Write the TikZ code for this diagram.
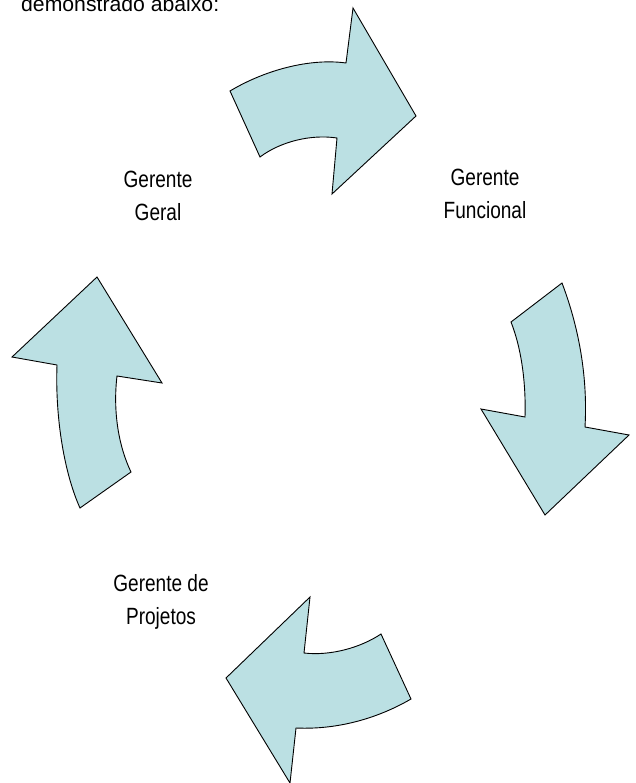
\documentclass[tikz,border=0pt]{standalone}
\usepackage{fontspec}
\setmainfont{Liberation Sans}
\newfontfamily\narrowfont[FakeStretch=0.81]{Liberation Sans}
\definecolor{arrowfill}{RGB}{187,224,227}
\tikzset{
  bigarrow/.style={draw=black, line width=0.9pt, fill=arrowfill, line join=miter},
  label/.style={inner sep=0pt, align=center, font=\narrowfont\fontsize{23.5}{33}\selectfont},
  headtext/.style={inner sep=0pt, anchor=base west, font=\fontsize{21.2}{25}\selectfont}
}
\begin{document}
\begin{tikzpicture}[x=1pt,y=-1pt]
\useasboundingbox (0,0) rectangle (636,783);
\fill[white] (0,0) rectangle (636,783);
\begin{scope}
\clip (0,0) rectangle (636,783);
\node[headtext] (head) at (21,12) {demonstrado abaixo:};
\end{scope}

% top arrow (pointing right)
\draw[bigarrow] (230,91) .. controls (265,70) and (310,58) .. (346,63)
  -- (353,8) -- (416,116) -- (332,194) -- (337,138)
  .. controls (310,134) and (280,142) .. (260,157) -- cycle;

% right arrow (pointing down)
\draw[bigarrow] (562,283) -- (511,322)
  .. controls (522,350) and (526,385) .. (525,417)
  -- (481,409) -- (545,515) -- (629,435) -- (585,427)
  .. controls (588,375) and (578,325) .. (562,283) -- cycle;

% bottom arrow (pointing left)
\draw[bigarrow] (310,597) -- (304,653)
  .. controls (330,656) and (360,648) .. (381,634)
  -- (411,699)
  .. controls (380,717) and (340,730) .. (296,728)
  -- (290,783) -- (226,678) -- cycle;

% left arrow (pointing up)
\draw[bigarrow] (97,277) -- (162,383) -- (117,376)
  .. controls (113,410) and (118,445) .. (131,472)
  -- (80,508)
  .. controls (65,475) and (55,420) .. (57,365)
  -- (12,357) -- cycle;

\node[label] (geral) at (158,196) {Gerente\\Geral};
\node[label] (funcional) at (485,193.5) {Gerente\\Funcional};
\node[label] (projetos) at (161,601.5) {Gerente de\\Projetos};
\end{tikzpicture}
\end{document}
